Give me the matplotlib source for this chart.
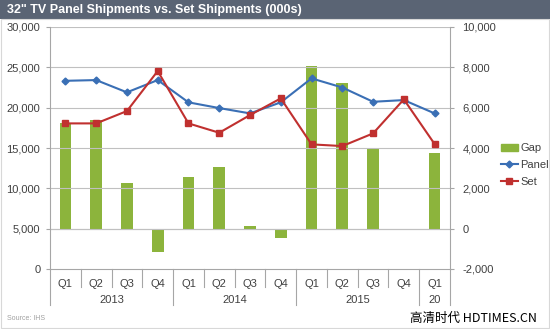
import matplotlib.pyplot as plt
from matplotlib.patches import Rectangle
from matplotlib.lines import Line2D
import matplotlib.transforms as mtrans

quarters = ['Q1', 'Q2', 'Q3', 'Q4', 'Q1', 'Q2', 'Q3', 'Q4', 'Q1', 'Q2', 'Q3', 'Q4', 'Q1']
years = ['2013', '2014', '2015', '20']
year_spans = [(0, 3), (4, 7), (8, 11), (12, 12)]
panel = [23330, 23420, 21900, 23420, 20660, 19950, 19290, 20660, 23630, 22500, 20730, 20940, 19290]
set_ = [18050, 18050, 19580, 24540, 18050, 16890, 19080, 21150, 15450, 15240, 16810, 21030, 15490]
gap = [5250, 5380, 2260, -1140, 2560, 3070, 150, -480, 8090, 7240, 3960, 0, 3770]

green = '#8cb43c'
blue = '#3a6fb5'
red = '#c0302f'
grid_c = '#c0c0c0'
spine_c = '#a6a6a6'
txt_c = '#404040'

plt.rcParams['font.family'] = ['Liberation Sans', 'DejaVu Sans']
fig = plt.figure(figsize=(5.5, 3.29), dpi=100)

# title bar
fig.patches.append(Rectangle((0, 1 - 19 / 329), 1, 19 / 329, transform=fig.transFigure,
                             facecolor='#5a6474', edgecolor='none'))
fig.patches.append(Rectangle((0.002, 0.003), 0.996, 1 - 19 / 329 - 0.003, transform=fig.transFigure,
                             facecolor='none', edgecolor='#d8d8d8', lw=0.8))
fig.text(7 / 550, 1 - 10 / 329, '32" TV Panel Shipments vs. Set Shipments (000s)', color='white',
         fontsize=9, fontweight='bold', va='center', ha='left')

ax = fig.add_axes([50 / 550, 60 / 329, 400 / 550, 242 / 329])
x = list(range(len(quarters)))

# bars on the right axis scale
ax.bar(x, gap, width=0.38, color=green, zorder=2)
ax.set_ylim(-2000, 10000)
ax.set_yticks(range(-2000, 10001, 2000))
ax.set_yticklabels(['{:,}'.format(v) for v in range(-2000, 10001, 2000)])
ax.set_xlim(-0.5, 12.5)
ax.set_xticks(x)
ax.set_xticklabels(quarters)

ax2 = ax.twinx()
ax2.plot(x, panel, color=blue, marker='D', markersize=3.5, lw=1.5, zorder=3)
ax2.plot(x, set_, color=red, marker='s', markersize=5, lw=1.5, zorder=3)
ax2.set_ylim(0, 30000)
ax2.set_yticks(range(0, 30001, 5000))
ax2.set_yticklabels(['{:,}'.format(v) for v in range(0, 30001, 5000)])
ax.set_zorder(ax2.get_zorder() - 1)
ax2.patch.set_visible(False)
ax.patch.set_visible(False)

for a in (ax, ax2):
    for s in a.spines.values():
        s.set_visible(False)
ax.tick_params(axis='y', labelsize=8, colors=txt_c, length=3, color=spine_c, pad=6,
               left=False, labelleft=False, right=True, labelright=True)
ax2.tick_params(axis='y', labelsize=8, colors=txt_c, length=3, color=spine_c, pad=4,
                left=True, labelleft=True, right=False, labelright=False)
ax.tick_params(axis='x', length=0, pad=7, labelsize=8, labelcolor=txt_c)
ax2.spines['left'].set_visible(True)
ax2.spines['left'].set_color(spine_c)
ax2.spines['right'].set_visible(True)
ax2.spines['right'].set_color(spine_c)
ax2.spines['bottom'].set_visible(True)
ax2.spines['bottom'].set_color(spine_c)

for v in range(5000, 30001, 5000):
    ax2.axhline(v, color=grid_c, lw=0.8, zorder=0)
ax.axhline(0, color=grid_c, lw=0.8, zorder=1)

# category axis separators and year labels
tr = mtrans.blended_transform_factory(ax.transData, ax.transAxes)
q_len = 18 / 242
y_len = 36 / 242
for b in [i + 0.5 for i in range(-1, 13)]:
    is_year = b in (-0.5, 3.5, 7.5, 11.5, 12.5)
    ax.add_line(Line2D([b, b], [0, -(y_len if is_year else q_len)], transform=tr,
                       color=spine_c, lw=0.8, clip_on=False))
for label, (a, b) in zip(years, year_spans):
    ax.text((a + b) / 2, -36 / 242, label, transform=tr, ha='center', va='bottom',
            fontsize=8, color=txt_c)

handles = [Rectangle((0, 0), 1, 1, color=green),
           Line2D([], [], color=blue, marker='D', markersize=3.5, lw=1.5),
           Line2D([], [], color=red, marker='s', markersize=5, lw=1.5)]
fig.legend(handles, ['Gap', 'Panel', 'Set'], loc='center left', bbox_to_anchor=(495 / 550, 1 - 165 / 329),
           frameon=False, fontsize=8, handlelength=1.6, handletextpad=0.2, labelspacing=0.6,
           borderpad=0, labelcolor=txt_c)

fig.text(7 / 550, 1 - 318 / 329, 'Source: IHS', fontsize=5, color='#a0a0a0', va='center')
fig.text(537 / 550, 1 - 318 / 329, '高清时代 HDTIMES.CN', fontsize=9, color='black', va='center', ha='right',
         family=['Noto Sans CJK SC', 'DejaVu Sans'])

fig.savefig('out.png', dpi=100)
